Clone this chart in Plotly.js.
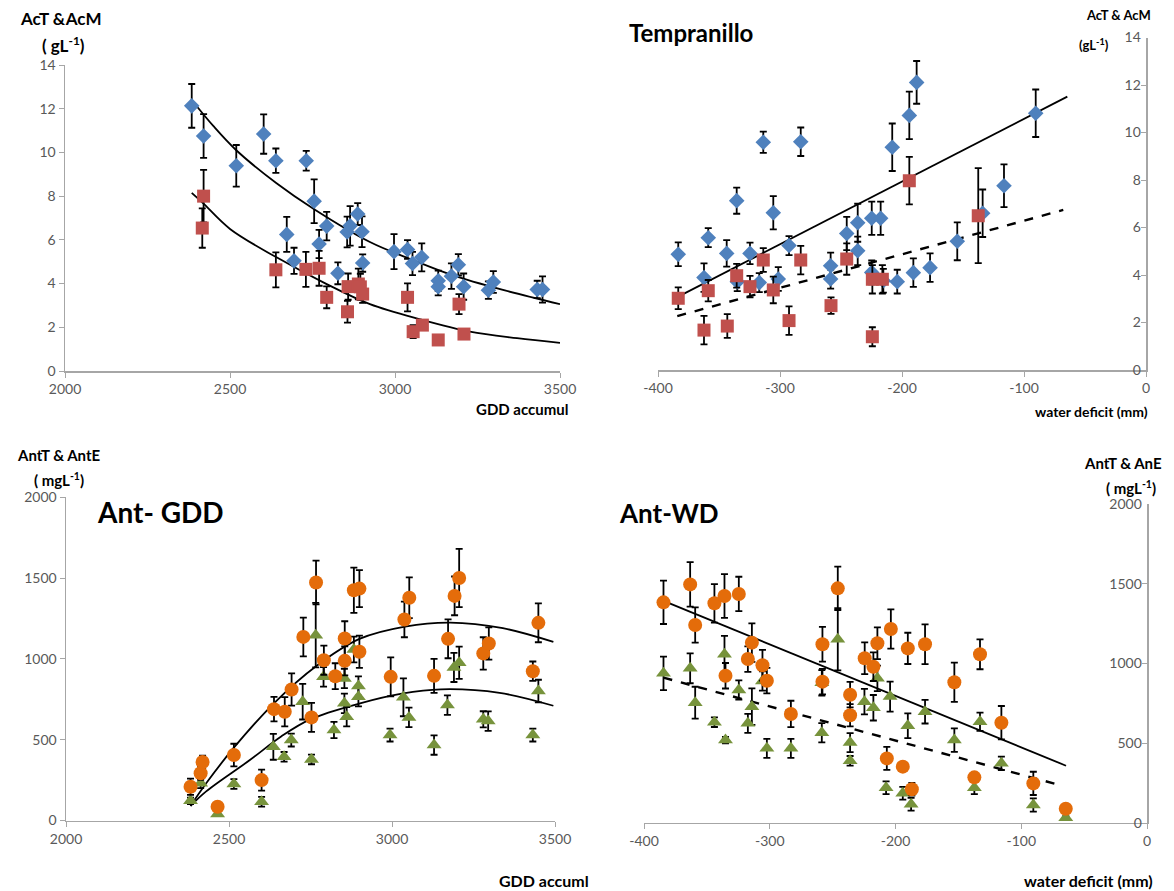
<!DOCTYPE html>
<html><head><meta charset="utf-8">
<script src="https://cdn.plot.ly/plotly-3.0.1.min.js"></script>
<style>html,body{margin:0;padding:0;background:#fff}#chart{width:1174px;height:891px}</style>
</head><body><div id="chart"></div>
<script>
// ---- Panel 1: acids vs GDD ----
const gddActX = [2384,2420,2519,2602,2639,2731,2755,2672,2694,2770,2793,2827,2855,2864,2887,2900,2902,2997,3038,3053,3081,3131,3131,3171,3192,3208,3283,3298,3431,3447];
const gddActY = [12.13,10.75,9.39,10.84,9.62,9.62,7.77,6.25,5.04,5.81,6.63,4.47,6.36,6.64,7.18,6.37,4.94,5.46,5.56,4.92,5.2,4.13,3.86,4.34,4.86,3.86,3.7,4.07,3.73,3.73];
const gddActErr = [1.0,1.0,0.95,0.9,0.56,0.45,1.0,0.8,0.6,0.65,0.65,0.5,0.7,0.9,0.5,0.7,0.4,0.8,0.43,0.53,0.64,0.46,0.4,0.58,0.49,0.6,0.4,0.5,0.4,0.6];
const gddAcmX = [2420,2416,2639,2730,2770,2793,2856,2858,2889,2902,2895,3038,3055,3083,3131,3194,3209];
const gddAcmY = [8.0,6.54,4.63,4.65,4.7,3.37,2.71,3.86,3.98,3.52,3.85,3.37,1.8,2.1,1.42,3.06,1.69];
const gddAcmErr = [1.2,0.9,0.8,0.8,0.8,0.5,0.5,0.6,0.7,0.4,0.6,0.64,0.3,0.1,0.1,0.46,0.1];
const gddActFitX = [2384,2450,2519,2640,2755,2924,3050,3171,3330,3500];
const gddActFitY = [12.4,11.2,10.1,8.6,7.4,5.9,5.1,4.4,3.7,3.06];
const gddAcmFitX = [2384,2419,2500,2641,2790,2924,3080,3227,3370,3500];
const gddAcmFitY = [8.15,7.67,6.5,5.2,4.0,3.06,2.35,1.8,1.5,1.29];

// ---- Panel 2: acids vs water deficit ----
const wdActX = [-383.4,-362.3,-358.8,-343.7,-335.5,-335,-324.6,-317,-313.7,-305.5,-301.4,-292.6,-283,-258.5,-258.5,-245.3,-236.3,-236.3,-224.8,-217.5,-224.8,-215.3,-208,-194,-188,-203.9,-190.7,-177,-154.7,-133.9,-116.4,-90.4];
const wdActY = [4.87,3.89,5.57,4.91,7.13,3.72,4.91,3.68,9.59,6.62,3.83,5.24,9.61,4.39,3.83,5.75,6.2,5.02,6.39,6.39,4.11,3.76,9.38,10.72,12.11,3.72,4.1,4.31,5.42,6.6,7.76,10.81];
const wdActErr = [0.5,0.6,0.4,0.56,0.55,0.4,0.45,0.4,0.45,0.7,0.5,0.4,0.6,0.55,0.4,0.7,0.8,0.6,0.7,0.7,0.5,0.5,1.0,1.0,0.9,0.5,0.6,0.6,0.8,1.0,0.9,1.0];
const wdAcmX = [-383.4,-362.3,-358.8,-343.2,-335.5,-324.6,-313.7,-305.5,-292.6,-283,-258.2,-245.3,-224.3,-224.3,-216.1,-194,-137.5];
const wdAcmY = [3.02,1.68,3.34,1.85,3.97,3.51,4.63,3.37,2.08,4.63,2.71,4.67,1.4,3.82,3.82,7.97,6.5];
const wdAcmErr = [0.46,0.6,0.45,0.5,0.5,0.45,0.5,0.56,0.6,0.6,0.35,0.66,0.4,0.6,0.6,1.0,2.0];
const wdActFitX = [-383.4,-64.5];
const wdActFitY = [3.09,11.51];
const wdAcmFitX = [-384.2,-67.8];
const wdAcmFitY = [2.27,6.74];

// ---- Panel 3: anthocyanins vs GDD ----
const gddAntTX = [2382,2413,2419,2465,2515,2600,2638,2671,2692,2728,2753,2767,2791,2826,2855,2855,2883,2900,2900,2996,3038,3053,3129,3172,3192,3206,3280,3297,3432,3449];
const gddAntTY = [209,292,362,85,405,250,689,673,811,1136,638,1473,992,893,1126,988,1425,1435,1044,889,1244,1378,895,1124,1390,1501,1034,1095,924,1223];
const gddAntTErr = [50,40,40,20,70,65,76,90,100,120,90,135,90,80,107,90,140,114,100,120,110,126,105,120,120,180,100,100,60,120];
const gddAntEX = [2382,2413,2465,2515,2600,2636,2669,2691,2726,2753,2766,2790,2822,2854,2854,2861,2883,2897,2897,3035,2994,3052,3129,3170,3190,3206,3280,3295,3432,3449];
const gddAntEY = [122,230,40,226,116,456,394,498,735,378,1147,889,560,879,725,642,1058,832,766,762,529,638,467,714,947,976,626,615,529,801];
const gddAntEErr = [20,30,10,30,30,80,30,40,110,30,200,60,50,60,60,60,80,60,60,117,40,60,60,60,90,100,50,60,40,70];
const gddAntTFitX = [2382,2430,2513,2640,2767,2902,3040,3178,3340,3495];
const gddAntTFitY = [90,230,446,730,955,1125,1200,1225,1190,1105];
const gddAntEFitX = [2382,2430,2564,2660,2749,2902,3030,3150,3330,3495];
const gddAntEFitY = [90,180,374,520,626,725,785,812,790,710];

// ---- Panel 4: anthocyanins vs water deficit ----
const wdAntTX = [-384.5,-363.3,-359.3,-344,-336,-324.6,-314.2,-317.4,-335.2,-305.8,-302.3,-283.2,-258.1,-258.1,-245.9,-236.1,-236.1,-224.5,-217.6,-214.4,-203.7,-190.2,-176.5,-153.2,-132.8,-115.8,-206.9,-194.2,-187,-137.3,-90.4,-64.6];
const wdAntTY = [1384,1497,1242,1378,1424,1437,1131,1028,923,989,892,683,1121,886,1472,804,675,1033,980,1127,1217,1095,1121,882,1058,628,404,352,210,285,247,88];
const wdAntTErr = [136,140,111,121,138,108,121,80,80,96,80,83,109,80,136,80,70,100,90,100,123,98,125,123,94,105,72,20,40,20,73,20];
const wdAntEX = [-384.5,-363.3,-359.3,-344,-336,-335.2,-324.6,-317.4,-314.2,-305.8,-302.3,-283.2,-258.6,-258.6,-245.9,-236.1,-236.1,-224.7,-217.6,-214.4,-204.3,-207.5,-194.2,-187.6,-190.2,-176.5,-153.2,-137.3,-132.8,-115.8,-90.4,-64.6];
const wdAntEY = [938,970,754,631,1058,519,834,624,729,890,467,467,879,565,1152,503,389,760,722,907,792,220,185,116,609,697,519,220,634,373,111,31];
const wdAntEErr = [105,94,100,30,115,20,60,60,115,60,60,60,80,60,195,60,30,80,80,80,94,40,40,40,78,74,74,40,57,42,42,10];
const wdAntTFitX = [-384.5,-64.4];
const wdAntTFitY = [1393,358];
const wdAntEFitX = [-384.5,-67.3];
const wdAntEFitY = [911,232];

// tick values and labels
const gddTicks = [2000,2500,3000,3500];
const wdTicks = [-400,-300,-200,-100,0];
const wdTickText = ['-400','-300','-200','-100','0'];
const acTicks = [0,2,4,6,8,10,12,14];
const antTicks = [0,500,1000,1500,2000];

const BLUE='#4f81bd', RED='#c0504d', ORANGE='#e46c0a', GREEN='#77933c';
function pts(x,y,err,sym,size,col,xa,ya){
  return {type:'scatter',mode:'markers',x:x,y:y,xaxis:xa,yaxis:ya,showlegend:false,
    marker:{symbol:sym,size:size,color:col},
    error_y:{type:'data',array:err,visible:true,color:'#000',thickness:1.8,width:3.5}};
}
function fit(x,y,dash,xa,ya,shape){
  return {type:'scatter',mode:'lines',x:x,y:y,xaxis:xa,yaxis:ya,showlegend:false,
    line:{color:'#000',width:dash==='solid'?1.8:2.4,dash:dash,shape:shape||'linear',smoothing:1}};
}
const data = [
  fit(gddActFitX,gddActFitY,'solid','x','y','spline'),
  fit(gddAcmFitX,gddAcmFitY,'solid','x','y','spline'),
  pts(gddActX,gddActY,gddActErr,'diamond',12,BLUE,'x','y'),
  pts(gddAcmX,gddAcmY,gddAcmErr,'square',13,RED,'x','y'),
  fit(wdActFitX,wdActFitY,'solid','x2','y2'),
  fit(wdAcmFitX,wdAcmFitY,'dash','x2','y2'),
  pts(wdActX,wdActY,wdActErr,'diamond',12,BLUE,'x2','y2'),
  pts(wdAcmX,wdAcmY,wdAcmErr,'square',13,RED,'x2','y2'),
  fit(gddAntTFitX,gddAntTFitY,'solid','x3','y3','spline'),
  fit(gddAntEFitX,gddAntEFitY,'solid','x3','y3','spline'),
  pts(gddAntEX,gddAntEY,gddAntEErr,'triangle-up',13,GREEN,'x3','y3'),
  pts(gddAntTX,gddAntTY,gddAntTErr,'circle',14,ORANGE,'x3','y3'),
  fit(wdAntTFitX,wdAntTFitY,'solid','x4','y4'),
  fit(wdAntEFitX,wdAntEFitY,'dash','x4','y4'),
  pts(wdAntEX,wdAntEY,wdAntEErr,'triangle-up',13,GREEN,'x4','y4'),
  pts(wdAntTX,wdAntTY,wdAntTErr,'circle',14,ORANGE,'x4','y4')
];
const W=1174,H=891;
const FONT='Lato, "Open Sans", sans-serif';
const tickFont={family:FONT,size:14,color:'#595959'};
function xax(dom,rng,tv,tt,anchor){const o={domain:[dom[0]/W,dom[1]/W],range:rng,tickvals:tv,anchor:anchor,showgrid:false,zeroline:false,
  showline:true,linecolor:'#a6a6a6',linewidth:1.5,ticks:'outside',ticklen:5,tickcolor:'#a6a6a6',tickfont:tickFont,fixedrange:true};
  if(tt){o.ticktext=tt;} return o;}
function yax(dom,rng,tv,anchor,right){const o={domain:[1-dom[1]/H,1-dom[0]/H],range:rng,tickvals:tv,anchor:anchor,showgrid:false,zeroline:false,
  showline:true,linecolor:'#a6a6a6',linewidth:1.5,ticks:'outside',ticklen:5,tickcolor:'#a6a6a6',tickfont:tickFont,fixedrange:true};
  if(right){o.side='right';o.ticks='inside';o.ticklabelposition='inside';o.ticklabeloverflow='allow';}
  return o;}
function ann(text,x,y,size,xanchor){return {text:text,x:x/W,y:1-y/H,xref:'paper',yref:'paper',showarrow:false,
  xanchor:xanchor||'center',yanchor:'middle',font:{family:FONT,size:size,color:'#000',weight:'bold'}};}
const layout = {
  width:W,height:H,margin:{l:0,r:0,t:0,b:0},paper_bgcolor:'#fff',plot_bgcolor:'#fff',showlegend:false,
  xaxis: xax([65,560],[2000,3500],gddTicks,null,'y'),
  yaxis: yax([65,371],[0,14],acTicks,'x',false),
  xaxis2: xax([658,1146],[-400,0],wdTicks,wdTickText,'y2'),
  yaxis2: yax([37.5,370],[0,14],acTicks,'x2',true),
  xaxis3: xax([66,555],[2000,3500],gddTicks,null,'y3'),
  yaxis3: yax([497.3,820.5],[0,2000],antTicks,'x3',false),
  xaxis4: xax([644,1147],[-400,0],wdTicks,wdTickText,'y4'),
  yaxis4: yax([504.3,822.7],[0,2000],antTicks,'x4',true),
  annotations:[
    ann('AcT &AcM',61,18,17),
    ann('( gL<sup>-1</sup>)',63,45,17),
    ann('Tempranillo',691,33,24),
    ann('AcT & AcM',1118,15,13),
    ann('(gL<sup>-1</sup>)',1094,45,13),
    ann('GDD accumul',522,409,15),
    ann('water deficit (mm)',1150,411,14,'right'),
    ann('AntT & AntE',59,455,15),
    ann('( mgL<sup>-1</sup>)',59,479,15),
    ann('Ant- GDD',160,512,28),
    ann('Ant-WD',669,513,26),
    ann('AntT & AnE',1123,463,15),
    ann('( mgL<sup>-1</sup>)',1131,488,15),
    ann('GDD accuml',544,880,16),
    ann('water deficit (mm)',1088,880,16)
  ]
};
Plotly.newPlot('chart',data,layout,{staticPlot:true});
</script></body></html>
